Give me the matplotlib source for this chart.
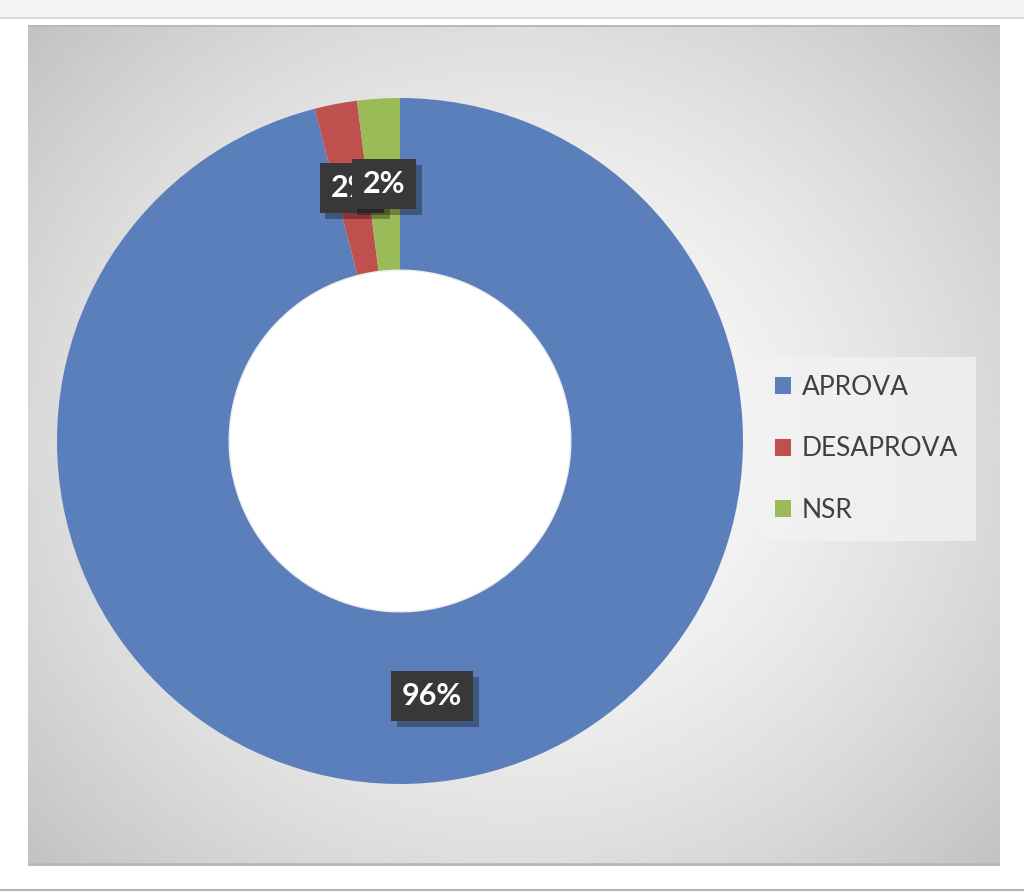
import numpy as np
import matplotlib
matplotlib.use("Agg")
import matplotlib.pyplot as plt
import matplotlib.patheffects as pe
from matplotlib.patches import Rectangle, Circle

plt.rcParams['font.family'] = ['Lato', 'DejaVu Sans']

# data
categories = ["APROVA", "DESAPROVA", "NSR"]
values = [96, 2, 2]
colors = ["#5A7FBB", "#C0504D", "#9BBB59"]

W, H = 1024, 892
fig = plt.figure(figsize=(W / 100, H / 100), dpi=100, facecolor="white")


def px_axes(x0, y0, x1, y1):
    # pixel box (top-left origin) -> figure fraction rect
    return [x0 / W, (H - y1) / H, (x1 - x0) / W, (y1 - y0) / H]


# top strip and bottom rule of the screenshot
fig.patches.append(Rectangle((0, (H - 18) / H), 1, 18 / H, transform=fig.transFigure,
                             facecolor="#f4f4f4", edgecolor="none", zorder=0))
fig.lines.append(plt.Line2D([0, 1], [(H - 18) / H] * 2, transform=fig.transFigure,
                            color="#d2d2d2", lw=1.2))
fig.lines.append(plt.Line2D([0, 1], [2 / H] * 2, transform=fig.transFigure,
                            color="#b4b4b4", lw=1.5))

# chart panel with radial gradient
bg = fig.add_axes(px_axes(28, 25, 1000, 866))
bg.set_axis_off()
yy, xx = np.mgrid[-1:1:400j, -1:1:460j]
r = np.sqrt((xx * 1.0) ** 2 + (yy * 0.92) ** 2) / 1.36
shade = np.clip(1.0 - 0.24 * r ** 1.5, 0, 1)
bg.imshow(shade, cmap="gray", vmin=0, vmax=1, extent=[0, 1, 0, 1], aspect="auto")
bg.set_xlim(0, 1)
bg.set_ylim(0, 1)
bg.plot([0, 1], [1, 1], color="#b8b8b8", lw=2)
bg.plot([0, 1], [0.002, 0.002], color="#b8b8b8", lw=2)

# donut
ax = fig.add_axes(px_axes(57, 98, 743, 784))
ax.set_axis_off()
wedges, _ = ax.pie(values, colors=colors, startangle=90, counterclock=False,
                   radius=1, wedgeprops=dict(width=0.5, edgecolor="none"))
ax.add_patch(Circle((0, 0), 0.5, facecolor="white", edgecolor="#ececec", lw=2, zorder=0.5))
ax.set_xlim(-1, 1)
ax.set_ylim(-1, 1)

total = sum(values)
for w, v in zip(wedges, values):
    ang = np.deg2rad((w.theta1 + w.theta2) / 2)
    x, y = 0.75 * np.cos(ang), 0.75 * np.sin(ang)
    t = ax.text(x, y, f"{round(100 * v / total)}%", ha="center", va="center",
                fontsize=22, fontweight="bold", color="white",
                bbox=dict(boxstyle="square,pad=0.36", facecolor="#383838",
                          edgecolor="none"))
    t.get_bbox_patch().set_path_effects(
        [pe.SimplePatchShadow(offset=(4, -4), shadow_rgbFace="black", alpha=0.3), pe.Normal()])

leg = fig.legend(wedges, categories, loc="upper left",
                 bbox_to_anchor=(757 / W, (H - 357) / H), borderaxespad=0,
                 fontsize=19, frameon=True, handlelength=0.62, handleheight=0.62,
                 handletextpad=0.4, labelspacing=1.38, borderpad=0.68,
                 fancybox=False)
leg.get_frame().set_facecolor("#f2f2f2")
leg.get_frame().set_edgecolor("none")
leg.get_frame().set_alpha(0.8)
for t in leg.get_texts():
    t.set_color("#404040")

fig.savefig("out.png", dpi=100, facecolor="white")
